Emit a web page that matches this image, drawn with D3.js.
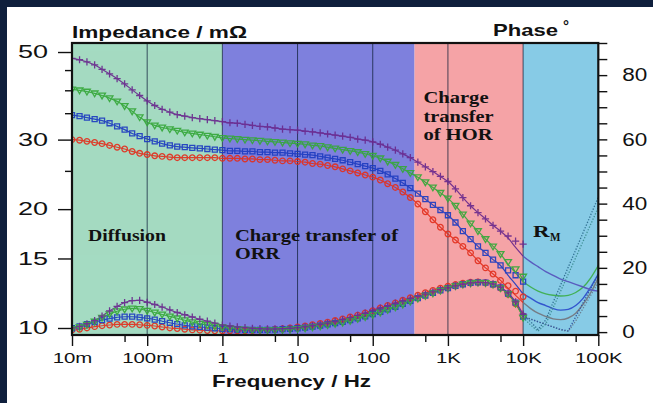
<!DOCTYPE html>
<html>
<head>
<meta charset="utf-8">
<script src="https://cdn.jsdelivr.net/npm/d3@7/dist/d3.min.js"></script>
<style>
  html,body{margin:0;padding:0;background:#fff;}
  svg{display:block;}
</style>
</head>
<body>
<svg id="chart" width="653" height="403"></svg>
<script>
// ---------- data ----------
const freqs=[0.01,0.0126,0.0158,0.02,0.0251,0.0316,0.0398,0.0501,0.0631,0.0794,
 0.1,0.126,0.158,0.2,0.251,0.316,0.398,0.501,0.631,0.794,
 1,1.26,1.58,2,2.51,3.16,3.98,5.01,6.31,7.94,
 10,12.6,15.8,20,25.1,31.6,39.8,50.1,63.1,79.4,
 100,126,158,200,251,316,398,501,631,794,
 1000,1260,1580,2000,2510,3160,3980,5010,6310,7940,
 10000];

// impedance (mOhm) – measured points
const purpleZ=[48.2,47.8,47.2,46.4,45.2,44.0,42.8,41.5,40.1,38.8,
 37.6,36.6,35.8,35.2,34.7,34.4,34.1,33.9,33.7,33.5,
 33.3,33.1,33.0,32.8,32.6,32.4,32.3,32.1,31.9,31.8,
 31.7,31.5,31.4,31.2,31.0,30.8,30.6,30.4,30.1,29.9,
 29.6,29.2,28.7,28.2,27.6,27.0,26.3,25.6,24.9,24.2,
 23.5,22.5,21.4,20.4,19.6,18.9,18.2,17.6,17.1,16.6,16.3];
const greenZ=[40.2,40.0,39.7,39.3,38.8,38.2,37.5,36.5,35.4,34.2,
 33.2,32.6,32.2,31.9,31.6,31.3,31.1,30.9,30.7,30.5,
 30.3,30.2,30.1,30.0,29.9,29.8,29.7,29.6,29.5,29.4,
 29.3,29.2,29.0,28.9,28.7,28.5,28.3,28.1,27.9,27.6,
 27.3,26.9,26.4,25.9,25.3,24.7,24.1,23.4,22.7,22.0,
 21.3,20.4,19.4,18.4,17.6,16.8,16.1,15.4,14.7,14.1,13.5];
const blueZ=[34.6,34.4,34.1,33.8,33.5,33.0,32.4,31.8,31.1,30.6,
 30.1,29.7,29.3,29.0,28.8,28.7,28.6,28.5,28.4,28.3,
 28.2,28.1,28.1,28.0,28.0,27.9,27.9,27.8,27.8,27.7,
 27.6,27.5,27.4,27.2,27.0,26.8,26.6,26.3,26.0,25.7,
 25.4,25.0,24.5,23.9,23.3,22.6,21.9,21.2,20.5,19.9,
 19.3,18.5,17.6,16.8,16.1,15.5,14.9,14.4,14.0,13.6,13.1];
const redZ=[30.0,29.9,29.7,29.5,29.3,29.0,28.7,28.4,28.0,27.7,
 27.5,27.3,27.2,27.1,27.0,27.0,27.0,27.0,27.0,27.0,
 26.9,26.9,26.9,26.8,26.8,26.7,26.7,26.6,26.5,26.5,
 26.4,26.3,26.1,26.0,25.8,25.6,25.3,25.0,24.7,24.4,
 24.1,23.7,23.2,22.7,22.1,21.4,20.6,19.7,18.8,18.0,
 17.3,16.7,16.1,15.5,14.8,14.2,13.7,13.2,12.8,12.4,12.0];

// phase (deg) – measured points
const purpleP=[1.3,1.8,2.6,3.6,5.0,6.6,8.0,9.2,9.8,9.9,
 9.3,8.6,7.8,6.9,6.1,5.4,4.7,4.0,3.4,2.8,
 2.2,1.9,1.6,1.4,1.2,1.1,1.0,1.0,1.1,1.2,
 1.4,1.7,2.0,2.4,2.8,3.3,3.9,4.5,5.2,5.9,
 6.8,7.5,8.2,9.0,9.7,10.4,11.1,11.8,12.5,13.2,
 13.8,14.4,14.9,15.3,15.5,15.4,15.0,14.0,12.2,9.4,5.6];
const greenP=[1.0,1.5,2.3,3.3,4.5,5.6,6.5,7.1,7.4,7.2,
 6.7,6.1,5.5,4.9,4.3,3.7,3.1,2.6,2.2,1.8,
 1.5,1.2,1.0,0.8,0.7,0.6,0.6,0.6,0.7,0.8,
 1.0,1.2,1.5,1.8,2.2,2.6,3.0,3.5,4.1,4.7,
 5.4,6.1,6.9,7.7,8.6,9.5,10.4,11.3,12.1,12.9,
 13.6,14.3,14.8,15.2,15.4,15.3,14.8,13.7,11.8,8.9,4.5];
const blueP=[1.2,1.8,2.5,3.1,3.7,4.2,4.6,4.8,4.8,4.6,
 4.3,3.9,3.4,2.9,2.5,2.1,1.8,1.6,1.4,1.2,
 1.0,0.9,0.8,0.7,0.7,0.7,0.7,0.8,0.9,1.0,
 1.2,1.4,1.7,2.0,2.4,2.8,3.2,3.7,4.3,4.9,
 5.6,6.3,7.1,7.9,8.8,9.7,10.6,11.4,12.2,13.0,
 13.7,14.4,14.9,15.3,15.5,15.4,14.9,13.9,12.0,9.2,4.8];
const redP=[0.6,0.9,1.3,1.7,2.0,2.2,2.4,2.4,2.4,2.3,
 2.1,1.9,1.6,1.3,1.1,0.9,0.7,0.6,0.5,0.4,
 0.4,0.4,0.4,0.4,0.5,0.6,0.7,0.9,1.1,1.3,
 1.6,1.9,2.3,2.7,3.1,3.6,4.1,4.7,5.3,6.0,
 6.7,7.5,8.3,9.1,9.9,10.7,11.5,12.3,13.0,13.7,
 14.3,14.8,15.2,15.5,15.6,15.4,14.8,13.7,11.8,8.8,5.0];

// fitted impedance curves, 6.3 kHz .. 100 kHz
const fitFreqs=[6310,7940,10000,12600,15800,20000,25100,31600,39800,50100,63100,79400,100000];
const purpleFit=[16.9,16.0,15.2,14.7,14.3,13.9,13.6,13.3,13.1,12.9,12.7,12.5,12.4];
const greenFit=[14.5,13.8,13.1,12.7,12.4,12.2,12.1,12.05,12.1,12.3,12.7,13.4,14.4];
const blueFit=[13.6,12.9,12.2,11.9,11.6,11.4,11.2,11.1,11.15,11.4,11.9,12.7,13.7];
const redFit=[12.6,12.1,11.6,11.2,10.9,10.7,10.55,10.5,10.6,10.9,11.5,12.3,13.4];

// fitted phase curves (dotted), 10 kHz .. 100 kHz
const dotFreqs=[10000,12600,15800,20000,25100,31600,39800,50100,63100,79400,100000];
const purpleDot=[5.6,3.2,0.8,3.8,9.3,14.7,20.2,25.6,31.1,36.5,42.0];
const greenDot=[4.5,2.2,0.3,2.5,7.6,12.8,18.0,23.2,28.4,33.6,38.8];
const blueDot=[4.8,4.0,3.2,2.4,1.6,0.8,0.4,4.8,9.2,13.6,18.0];
const redDot=[5.0,4.1,3.3,2.4,1.6,0.7,0.2,3.5,7.5,11.5,15.5];

// axes / regions
const xTickValues=[0.01,0.1,1,10,100,1000,10000,100000];
const xTickLabels=['10m','100m','1','10','100','1K','10K','100K'];
const xMinorTicks=[0.05,0.5,5,50,500,5000,50000];
const zTickValues=[10,15,20,30,50];
const zMinorTicks=[25,35,40,45];
const phaseTickValues=[0,20,40,60,80];
const phaseMinorTicks=[5,10,15,25,30,35,45,50,55,65,70,75,85,90];
const regionBounds=[0.01,1,360,10000,100000];
const regionColors=['#a4dbc2','#7e80dd','#f5a3a6','#87cbe6'];
const gridFreqs=[0.1,1,10,100,1000,10000];

// ---------- drawing ----------
const W=653,H=403;
const L=72,R=598.3,T=43,B=335;
const svg=d3.select('#chart');
const SANS='Arial, "Liberation Sans", Helvetica, sans-serif';
const SERIF='"Times New Roman", "Liberation Serif", serif';

svg.append('rect').attr('width',W).attr('height',H).attr('fill','#0f1f3c');
svg.append('rect').attr('x',7).attr('y',7).attr('width',W-7).attr('height',H-7).attr('fill','#ffffff');

const x=d3.scaleLog().domain([0.01,1e5]).range([L,R]);
const yZ=d3.scaleLog().domain([9.6,52.7]).range([B,T]);
const yP=d3.scaleLinear().domain([-0.9,90]).range([B,T]);

// regions
const reg=svg.append('g');
regionColors.forEach((c,i)=>{
  reg.append('rect').attr('x',x(regionBounds[i])).attr('y',T)
    .attr('width',x(regionBounds[i+1])-x(regionBounds[i])).attr('height',B-T).attr('fill',c);
});
// grid
svg.append('g').selectAll('line').data(gridFreqs).join('line')
  .attr('x1',d=>x(d)).attr('x2',d=>x(d)).attr('y1',T).attr('y2',B)
  .attr('stroke','#10203a').attr('stroke-opacity',0.75).attr('stroke-width',1);

svg.append('clipPath').attr('id','plotclip').append('rect')
  .attr('x',L).attr('y',T).attr('width',R-L).attr('height',B-T);

const seriesColors=['#e2301f','#1e3cc0','#36a83a','#6a2a8e'];
const fitColors=['#74767e','#2c4ccc','#3cae4a','#5552bc'];
const dotColors=['#66788a','#2a4c9a','#3a8c90','#2a6a8c'];
const shapes={
  circle:'M-2.8,0A2.8,2.8 0 1,0 2.8,0A2.8,2.8 0 1,0 -2.8,0Z',
  square:'M-2.5,-2.5H2.5V2.5H-2.5Z',
  tri:'M-3.4,-2.3H3.4L0,3.4Z',
  plus:'M-3.6,0H3.6M0,-3.6V3.6'
};
const seriesList=[
  {Z:redZ,P:redP,fit:redFit,dot:redDot,shape:'circle'},
  {Z:blueZ,P:blueP,fit:blueFit,dot:blueDot,shape:'square'},
  {Z:greenZ,P:greenP,fit:greenFit,dot:greenDot,shape:'tri'},
  {Z:purpleZ,P:purpleP,fit:purpleFit,dot:purpleDot,shape:'plus'}
];

const data=svg.append('g').attr('clip-path','url(#plotclip)').attr('opacity',0.92);
const lineZ=d3.line().x(d=>x(d[0])).y(d=>yZ(d[1])).curve(d3.curveMonotoneX);
const lineP=d3.line().x(d=>x(d[0])).y(d=>yP(d[1])).curve(d3.curveMonotoneX);

seriesList.forEach((s,k)=>{
  const col=seriesColors[k];
  // impedance fit line up to 10 kHz
  const zpts=freqs.slice(0,58).map((f,i)=>[f,s.Z[i]]).concat(fitFreqs.slice(0,3).map((f,i)=>[f,s.fit[i]]));
  data.append('path').attr('d',lineZ(zpts)).attr('fill','none').attr('stroke',col).attr('stroke-width',1.2);
  // RM region continuation
  const rpts=fitFreqs.slice(2).map((f,i)=>[f,s.fit[i+2]]);
  data.append('path').attr('d',lineZ(rpts)).attr('fill','none').attr('stroke',fitColors[k]).attr('stroke-width',1.4);
  // phase line
  const ppts=freqs.map((f,i)=>[f,s.P[i]]);
  data.append('path').attr('d',lineP(ppts)).attr('fill','none').attr('stroke',col).attr('stroke-width',1.1);
  const dpts=dotFreqs.map((f,i)=>[f,s.dot[i]]);
  data.append('path').attr('d',d3.line().x(d=>x(d[0])).y(d=>yP(d[1]))(dpts)).attr('fill','none')
    .attr('stroke',dotColors[k]).attr('stroke-width',1.3).attr('stroke-dasharray','1.3,1.6');
});
seriesList.forEach((s,k)=>{
  const col=seriesColors[k];
  const g=data.append('g').attr('fill','none').attr('stroke',col).attr('stroke-width',1.3);
  g.selectAll('path.z').data(freqs.map((f,i)=>[f,s.Z[i]])).join('path').attr('class','z')
    .attr('d',shapes[s.shape]).attr('transform',d=>`translate(${x(d[0])},${yZ(d[1])})`);
  g.selectAll('path.p').data(freqs.map((f,i)=>[f,s.P[i]])).join('path').attr('class','p')
    .attr('d',shapes[s.shape]).attr('transform',d=>`translate(${x(d[0])},${yP(d[1])})`);
});

// frame
svg.append('rect').attr('x',L).attr('y',T).attr('width',R-L).attr('height',B-T)
  .attr('fill','none').attr('stroke','#111').attr('stroke-width',2.2);

function stretch(sel,factor,anchor){
  sel.each(function(){
    const w=this.getComputedTextLength(), tw=w*factor;
    const x0=+(this.getAttribute('x')||0);
    const xs=anchor==='end'?x0-tw:anchor==='middle'?x0-tw/2:x0;
    d3.select(this).attr('text-anchor','start').attr('x',xs)
      .attr('textLength',tw).attr('lengthAdjust','spacingAndGlyphs');
  });
}
function styleAxis(g){
  g.select('.domain').remove();
  g.selectAll('line').attr('stroke','#111').attr('stroke-width',1.4);
  g.selectAll('text').attr('fill','#111').attr('font-family',SANS);
}
// bottom axis
const gx=svg.append('g').attr('transform',`translate(0,${B})`);
gx.call(d3.axisBottom(x).tickValues(xTickValues).tickSize(11)
  .tickFormat(d=>xTickLabels[xTickValues.indexOf(d)]));
styleAxis(gx);
gx.selectAll('text').attr('font-size',15).attr('y',28).attr('dy',0);
stretch(gx.selectAll('text'),1.36,'middle');
const gx2=svg.append('g').attr('transform',`translate(0,${B})`);
gx2.call(d3.axisBottom(x).tickValues(xMinorTicks).tickSize(7).tickFormat(''));
styleAxis(gx2);

// left axis
const gyl=svg.append('g').attr('transform',`translate(${L},0)`);
gyl.call(d3.axisLeft(yZ).tickValues(zTickValues).tickSize(14).tickPadding(10).tickFormat(d3.format('d')));
styleAxis(gyl);
gyl.selectAll('text').attr('font-size',18);
stretch(gyl.selectAll('text'),1.5,'end');
const gyl2=svg.append('g').attr('transform',`translate(${L},0)`);
gyl2.call(d3.axisLeft(yZ).tickValues(zMinorTicks).tickSize(7).tickFormat(''));
styleAxis(gyl2);

// right axis
const gyr=svg.append('g').attr('transform',`translate(${R},0)`);
gyr.call(d3.axisRight(yP).tickValues(phaseTickValues).tickSize(9).tickPadding(15).tickFormat(d3.format('d')));
styleAxis(gyr);
gyr.selectAll('text').attr('font-size',18);
stretch(gyr.selectAll('text'),1.25,'start');
const gyr2=svg.append('g').attr('transform',`translate(${R},0)`);
gyr2.call(d3.axisRight(yP).tickValues(phaseMinorTicks).tickSize(9).tickFormat(''));
styleAxis(gyr2);

// text helper
function label(str,x0,y0,opts){
  const t=svg.append('text').attr('x',x0).attr('y',y0).text(str)
    .attr('font-family',opts.serif?SERIF:SANS).attr('font-weight','bold')
    .attr('font-size',opts.size||17).attr('fill',opts.fill||'#111');
  if(opts.width) t.attr('textLength',opts.width).attr('lengthAdjust','spacingAndGlyphs');
  return t;
}
label('Impedance / mΩ',72,37.5,{width:175});
label('Phase',493,35.5,{width:65});
label('°',563,31,{size:15});
label('Frequency / Hz',212,386.5,{width:159});

label('Diffusion',88,240.5,{serif:true,width:78});
label('Charge transfer of',235,240.5,{serif:true,width:163});
label('ORR',235,258.5,{serif:true,width:45});
label('Charge',423.5,103,{serif:true,width:65});
label('transfer',423.5,121.5,{serif:true,width:70});
label('of HOR',423.5,140,{serif:true,width:69});
label('R',533,237,{serif:true,width:16.5});
label('M',550,241,{serif:true,size:12.5,width:10.5});
</script>
</body>
</html>
